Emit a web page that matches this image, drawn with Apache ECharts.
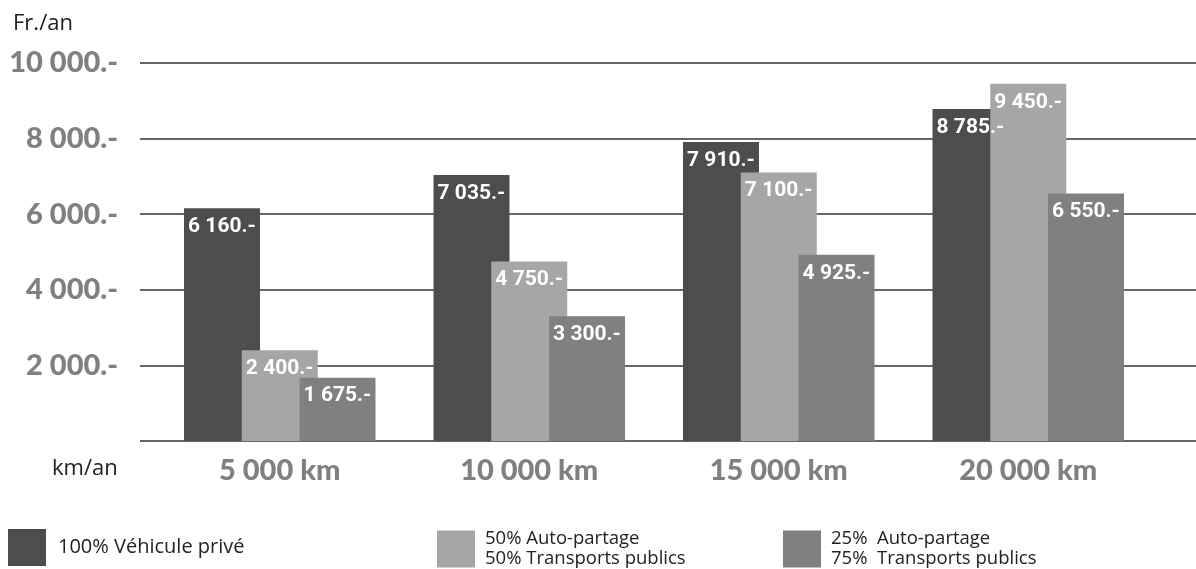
<!DOCTYPE html>
<html>
<head>
<meta charset="utf-8">
<script src="https://cdn.jsdelivr.net/npm/echarts@6/dist/echarts.min.js"></script>
<style>
  html, body { margin: 0; padding: 0; background: #fff; }
  #chart { width: 1196px; height: 569px; }
</style>
</head>
<body>
<div id="chart"></div>
<script>
const categories = ['5 000 km', '10 000 km', '15 000 km', '20 000 km']
const seriesNames = ['100% Véhicule privé', '50% Auto-partage / 50% Transports publics', '25% Auto-partage / 75% Transports publics']
const legendTexts = ['100% Véhicule privé', '50% Auto-partage\n50% Transports publics', '25%  Auto-partage\n75%  Transports publics']
const prive = [6160, 7035, 7910, 8785]
const partage50 = [2400, 4750, 7100, 9450]
const partage25 = [1675, 3300, 4925, 6550]
const yTicks = [0, 2000, 4000, 6000, 8000, 10000]
const colors = ['#4d4d4d', '#a6a6a6', '#808080']

// 6160 -> "6 160.-"
function fmt(v) {
  return String(v).replace(/\B(?=(\d{3})+(?!\d))/g, ' ') + '.-'
}

const chart = echarts.init(document.getElementById('chart'))

const heavy = '"Lato Black", Lato, "DejaVu Sans", sans-serif'
const narrow = 'Roboto, "Liberation Sans", sans-serif'
const plain = '"Open Sans", "Noto Sans", sans-serif'

function makeSeries(idx, data) {
  return {
    name: seriesNames[idx],
    type: 'bar',
    xAxisIndex: 1,
    yAxisIndex: 1,
    data: data,
    barWidth: 76,
    barGap: '-24%',
    itemStyle: { color: colors[idx] },
    label: {
      show: true,
      position: 'insideTop',
      distance: 8,
      color: '#fff',
      fontFamily: narrow,
      fontWeight: 'bold',
      fontSize: 21,
      formatter: (p) => fmt(p.value),
    },
  }
}

function makeLegend(idx, left, gap, size) {
  return {
    data: [seriesNames[idx]],
    left: left,
    top: 529,
    padding: 0,
    orient: 'horizontal',
    icon: 'rect',
    itemWidth: 38,
    itemHeight: 37,
    itemGap: 0,
    selectedMode: false,
    formatter: () => legendTexts[idx],
    textStyle: {
      color: '#222',
      fontFamily: plain,
      fontSize: size,
      lineHeight: 20,
      padding: [0, 0, 0, gap],
    },
  }
}

const options = {
  backgroundColor: '#fff',
  animation: false,
  grid: [
    // grid for the horizontal lines (they run to the right edge)
    { left: 140, right: 0, top: 63, bottom: 128, containLabel: false },
    // grid for the bars
    { left: 155, width: 998, top: 63, bottom: 128, containLabel: false },
  ],
  xAxis: [
    {
      gridIndex: 0,
      type: 'category',
      data: [''],
      show: false,
    },
    {
      gridIndex: 1,
      type: 'category',
      data: categories,
      axisLine: { show: false },
      axisTick: { show: false },
      axisLabel: {
        margin: 15,
        color: '#808080',
        fontFamily: heavy,
        fontWeight: 900,
        fontSize: 29,
      },
    },
  ],
  yAxis: [
    {
      gridIndex: 0,
      type: 'value',
      min: yTicks[0],
      max: yTicks[yTicks.length - 1],
      interval: yTicks[1] - yTicks[0],
      axisLine: { show: false },
      axisTick: { show: false },
      splitLine: { lineStyle: { color: '#333', width: 1.5 } },
      axisLabel: {
        margin: 22,
        color: '#808080',
        fontFamily: heavy,
        fontWeight: 900,
        fontSize: 29,
        formatter: (v) => (v === 0 ? '' : fmt(v)),
      },
    },
    {
      gridIndex: 1,
      type: 'value',
      min: yTicks[0],
      max: yTicks[yTicks.length - 1],
      show: false,
      splitLine: { show: false },
    },
  ],
  legend: [makeLegend(0, 8, 7, 20), makeLegend(1, 437, 5, 18.5), makeLegend(2, 783, 5, 18.5)],
  graphic: [
    {
      type: 'text',
      left: 13,
      top: 13,
      style: { text: 'Fr./an', fill: '#222', font: '22px ' + plain },
    },
    {
      type: 'text',
      left: 52,
      top: 458,
      style: { text: 'km/an', fill: '#222', font: '22px ' + plain },
    },
  ],
  series: [
    makeSeries(0, prive),
    makeSeries(1, partage50),
    makeSeries(2, partage25),
  ],
}

chart.setOption(options)
</script>
</body>
</html>
